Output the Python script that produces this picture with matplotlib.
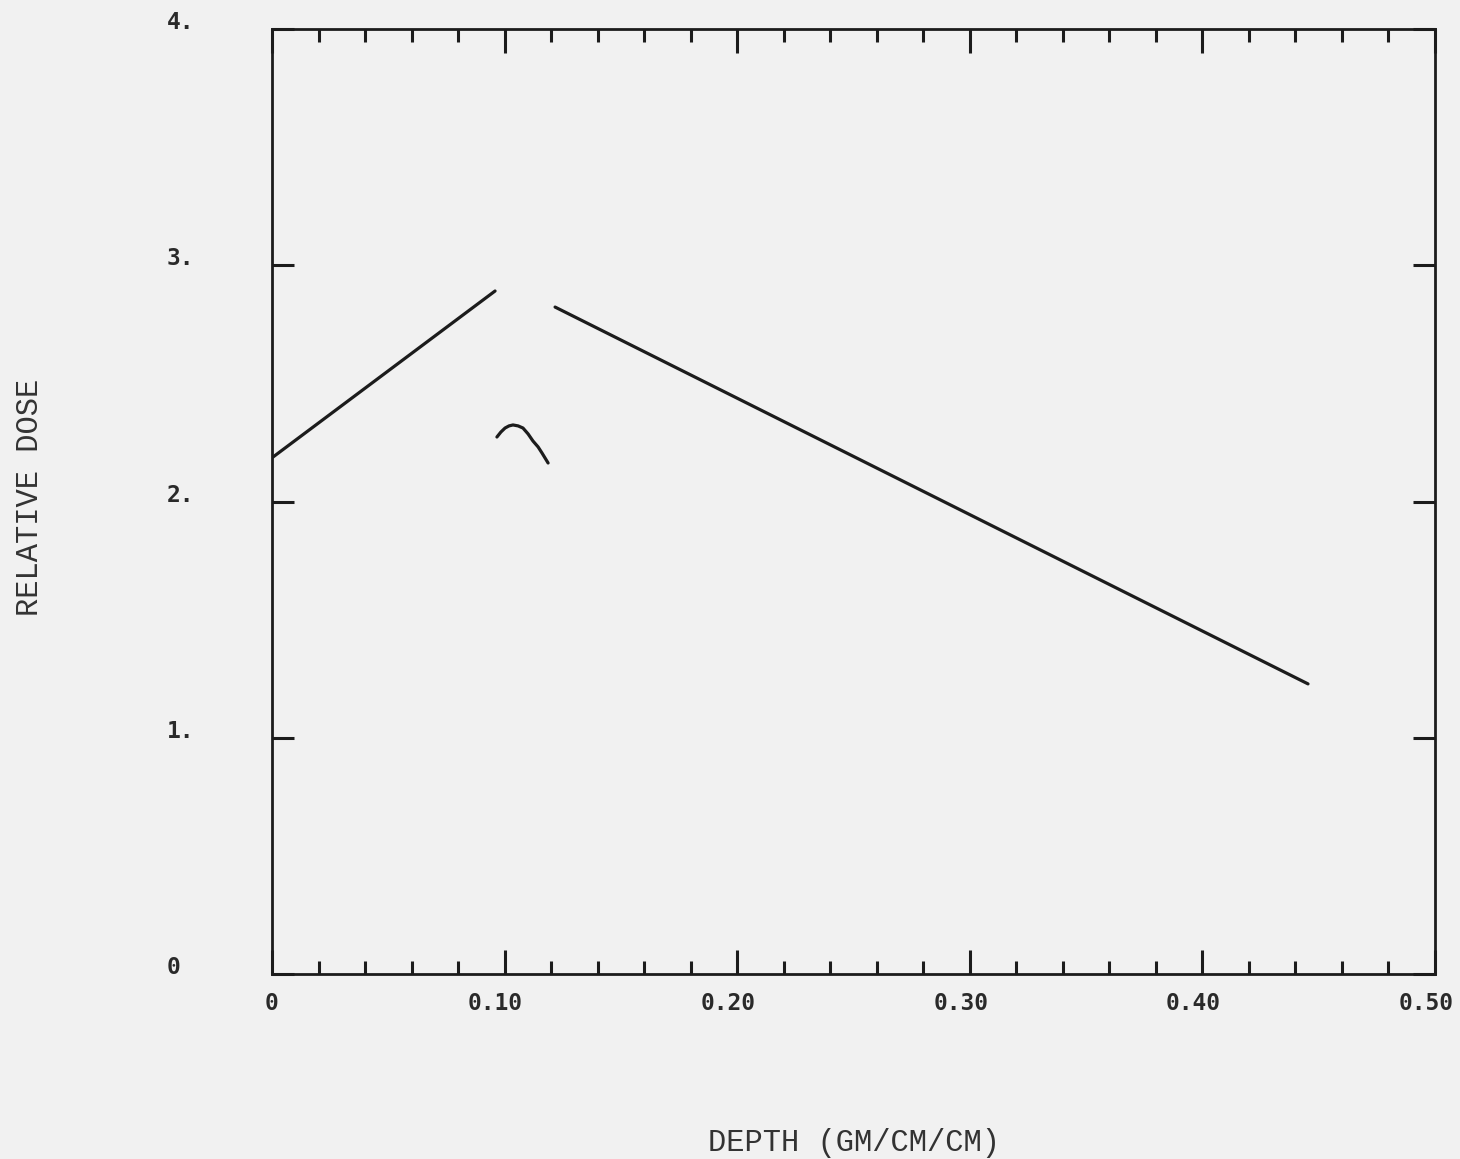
# -*- coding: utf-8 -*-
"""
Relative dose vs depth, plotter style.
"""
import matplotlib
matplotlib.use("Agg")
import matplotlib.pyplot as plt
from matplotlib.transforms import ScaledTranslation
import numpy as np

# rising segment (front layer)
depth_a = [0.0004, 0.0959]
dose_a = [2.188, 2.891]

# small hump near the interface
depth_b = [0.0967, 0.0984, 0.1002, 0.1019, 0.1036, 0.1058, 0.1079,
           0.1101, 0.1122, 0.1144, 0.1161, 0.1174, 0.1187]
dose_b = [2.273, 2.294, 2.311, 2.320, 2.324, 2.320, 2.311,
          2.286, 2.256, 2.231, 2.205, 2.184, 2.163]

# falling segment (back layer)
depth_c = [0.1217, 0.4454]
dose_c = [2.823, 1.228]

xticks = [0.0, 0.10, 0.20, 0.30, 0.40, 0.50]
xticklabels = ["0", "0.10", "0.20", "0.30", "0.40", "0.50"]
yticks = [0, 1, 2, 3, 4]
yticklabels = ["0", "1.", "2.", "3.", "4."]

bg = "#f1f1f1"
ink = "#1c1c1c"

fig = plt.figure(figsize=(14.6, 11.59), dpi=100, facecolor=bg)
ax = fig.add_axes([272 / 1460, 185 / 1159, 1163 / 1460, 945 / 1159])
ax.set_facecolor(bg)

for xs, ys in [(depth_a, dose_a), (depth_b, dose_b), (depth_c, dose_c)]:
    ax.plot(xs, ys, color=ink, lw=2.3, solid_capstyle="round",
            solid_joinstyle="round")

ax.set_xlim(0, 0.5)
ax.set_ylim(0, 4)

for s in ax.spines.values():
    s.set_color(ink)
    s.set_linewidth(2.0)

# ticks
ax.set_xticks(xticks, xticklabels)
ax.set_xticks(np.arange(0, 0.5001, 0.02), minor=True)
ax.set_yticks(yticks, yticklabels)

ax.tick_params(axis="x", which="major", direction="in", length=17, width=2.2,
               top=True, bottom=True, color=ink, pad=13)
ax.tick_params(axis="x", which="minor", direction="in", length=9.5, width=2.2,
               top=True, bottom=True, color=ink)
ax.tick_params(axis="y", which="major", direction="in", length=16, width=2.2,
               left=True, right=True, color=ink, pad=76)

tick_font = dict(family="DejaVu Sans Mono", size=16.5, weight="bold",
                 color="#2a2a2a")
for lbl in ax.get_xticklabels():
    lbl.set(**tick_font)
for i, lbl in enumerate(ax.get_xticklabels()):
    if i > 0:
        lbl.set_transform(lbl.get_transform() +
                          ScaledTranslation(-9 / 100, 0, fig.dpi_scale_trans))
for lbl in ax.get_yticklabels():
    lbl.set(**tick_font)
    lbl.set_horizontalalignment("left")
    lbl.set_verticalalignment("baseline")

label_font = dict(family="Liberation Mono", size=22, color="#333333")
ax.set_xlabel("DEPTH (GM/CM/CM)", **label_font)
ax.set_ylabel("RELATIVE DOSE", **label_font)
ax.xaxis.label.set_verticalalignment("center")
ax.yaxis.label.set_verticalalignment("center")
ax.xaxis.set_label_coords(0.5, -0.179)
ax.yaxis.set_label_coords(-0.208, 0.504)

fig.savefig("out.png", dpi=100, facecolor=bg)
